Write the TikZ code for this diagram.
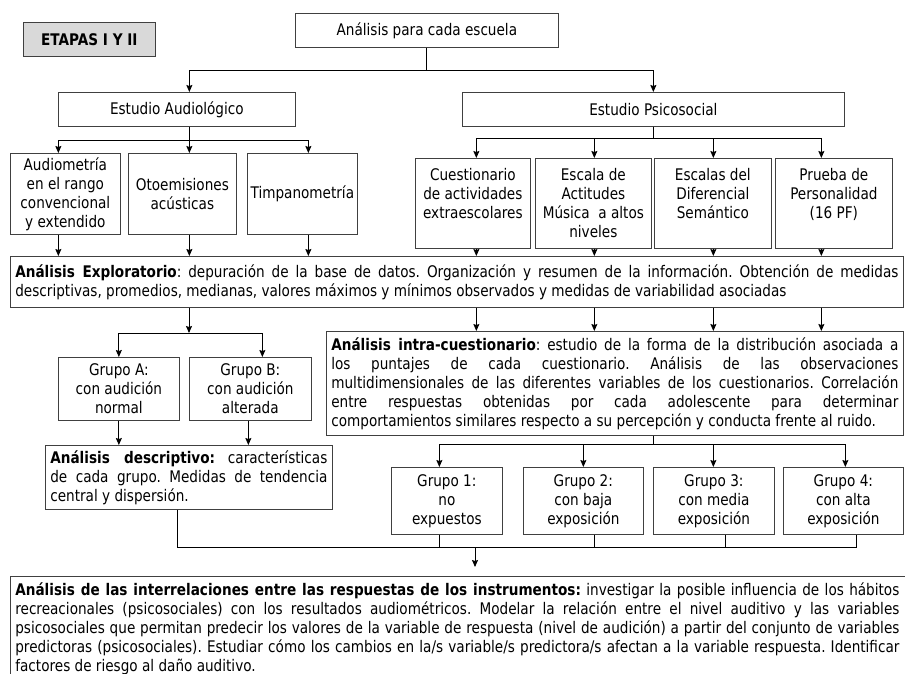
\documentclass[tikz,border=0pt]{standalone}
\usepackage{fontspec}
\setmainfont{DejaVu Sans}[FakeStretch=0.85]
\usepackage{tikz}
\usetikzlibrary{arrows.meta}
\frenchspacing
\definecolor{grisetapa}{RGB}{217,217,217}
\definecolor{borde}{RGB}{64,64,64}
\tikzset{%
    caja/.style={%
        draw=borde, line width=0.7pt, anchor=north west, align=center,
        inner sep=2pt, font=\fontsize{16}{19}\selectfont
    },
    parrafo/.style={caja, align=justify, inner xsep=5pt, inner ysep=4pt},
    tam/.style 2 args={minimum width=#1pt, minimum height=#2pt},
    linea/.style={line width=0.9pt},
    flecha/.style={->, line width=0.9pt}
}

\begin{document}
\begin{tikzpicture}[x=1pt, y=-1pt, >={Stealth[length=7pt,width=6pt,inset=1pt]}]
    \useasboundingbox (0,0) rectangle (905,673);
    \clip (0,0) rectangle (905,673);
    \fill[white] (0,0) rectangle (905,673);
    % cajas
    \node[caja, fill=grisetapa, tam={132}{34}, font=\fontsize{16}{19}\selectfont\bfseries] (etapas) at (23,22) {ETAPAS I Y II};
    \node[caja, tam={263}{34}] (escuela) at (295,13) {Análisis para cada escuela};
    \node[caja, tam={237}{34}] (audio) at (58,92) {Estudio Audiológico};
    \node[caja, tam={382}{34}] (psico) at (462,92) {Estudio Psicosocial};
    \node[caja, tam={110}{81}] (audiom) at (10,153) {Audiometría\\en el rango\\convencional\\y extendido};
    \node[caja, tam={108}{81}] (otoem) at (128,153) {Otoemisiones\\acústicas};
    \node[caja, tam={110}{81}] (timpa) at (247,153) {Timpanometría};
    \node[caja, tam={115}{90}] (cuest) at (415,158) {Cuestionario\\de actividades\\extraescolares\\\mbox{}};
    \node[caja, tam={116}{90}] (escala) at (535,158) {Escala de\\Actitudes\\Música\ \ a altos\\niveles};
    \node[caja, tam={117}{90}] (difer) at (654,158) {Escalas del\\Diferencial\\Semántico\\\mbox{}};
    \node[caja, tam={117}{90}] (prueba) at (775,158) {Prueba de\\Personalidad\\(16 PF)\\\mbox{}};
    \node[parrafo, text width=883pt, minimum height=51pt] (explor) at (10,256) {\textbf{Análisis Exploratorio}: depuración de la base de datos. Organización y resumen de la información. Obtención de medidas\linebreak descriptivas, promedios, medianas, valores máximos y mínimos observados y medidas de variabilidad asociadas};
    \node[caja, tam={121}{63}] (grA) at (58,357) {Grupo A:\\con audición\\normal};
    \node[caja, tam={122}{63}] (grB) at (189,357) {Grupo B:\\con audición\\alterada};
    \node[parrafo, text width=567pt, minimum height=104pt] (intra) at (326,331) {\textbf{Análisis intra-cuestionario}: estudio de la forma de la distribución asociada a\linebreak los puntajes de cada cuestionario. Análisis de las observaciones\linebreak multidimensionales de las diferentes variables de los cuestionarios. Correlación\linebreak entre respuestas obtenidas por cada adolescente para determinar\linebreak comportamientos similares respecto a su percepción y conducta frente al ruido.};
    \node[parrafo, text width=277pt, minimum height=64pt] (descr) at (45,445) {\textbf{Análisis descriptivo:} características\linebreak de cada grupo. Medidas de tendencia\linebreak central y dispersión.};
    \node[caja, tam={111}{67}] (gr1) at (391,467) {Grupo 1:\\no\\expuestos};
    \node[caja, tam={120}{67}] (gr2) at (523,467) {Grupo 2:\\con baja\\exposición};
    \node[caja, tam={121}{67}] (gr3) at (653,467) {Grupo 3:\\con media\\exposición};
    \node[caja, tam={120}{67}] (gr4) at (783,467) {Grupo 4:\\con alta\\exposición};
    \node[parrafo, draw=none, inner ysep=6pt, text width=884pt] (final) at (10,576) {\textbf{Análisis de las interrelaciones entre las respuestas de los instrumentos:} investigar la posible influencia de los hábitos\linebreak recreacionales (psicosociales) con los resultados audiométricos. Modelar la relación entre el nivel auditivo y las variables\linebreak psicosociales que permitan predecir los valores de la variable de respuesta (nivel de audición) a partir del conjunto de variables\linebreak predictoras (psicosociales). Estudiar cómo los cambios en la/s variable/s predictora/s afectan a la variable respuesta. Identificar\linebreak factores de riesgo al daño auditivo.};
    \draw[color=borde, line width=0.7pt] (final.north west) rectangle ++(960,130);
    % conectores
    \draw[linea] (escuela.south) -- ++(0,23) coordinate (r1);
    \draw[flecha] (r1) -| ([xshift=12.5pt]audio.north);
    \draw[flecha] (r1) -| (psico.north);
    \draw[linea] ([xshift=12.5pt]audio.south) -- ++(0,14) coordinate (r2);
    \draw[flecha] (r2) -| ([xshift=-7pt]audiom.north);
    \draw[flecha] (r2) -- ([xshift=7pt]otoem.north);
    \draw[flecha] (r2) -| ([xshift=6pt]timpa.north);
    \draw[linea] (psico.south) -- ++(0,12) coordinate (r3);
    \draw[flecha] (r3) -| ([xshift=3.5pt]cuest.north);
    \draw[flecha] (r3) -| ([xshift=1pt]escala.north);
    \draw[flecha] (r3) -| ([xshift=0.5pt]difer.north);
    \draw[flecha] (r3) -| ([xshift=-12.5pt]prueba.north);
    \draw[flecha] ([xshift=-7pt]audiom.south) -- ([xshift=-7pt]audiom.south |- explor.north);
    \draw[flecha] ([xshift=7pt]otoem.south) -- ([xshift=7pt]otoem.south |- explor.north);
    \draw[flecha] ([xshift=6pt]timpa.south) -- ([xshift=6pt]timpa.south |- explor.north);
    \draw[flecha] ([xshift=3.5pt]cuest.south) -- ([xshift=3.5pt]cuest.south |- explor.north);
    \draw[flecha] ([xshift=1pt]escala.south) -- ([xshift=1pt]escala.south |- explor.north);
    \draw[flecha] ([xshift=0.5pt]difer.south) -- ([xshift=0.5pt]difer.south |- explor.north);
    \draw[flecha] ([xshift=-12.5pt]prueba.south) -- ([xshift=-12.5pt]prueba.south |- explor.north);
    \coordinate (s1) at (189,333);
    \draw[flecha] (explor.south -| s1) -- (s1);
    \draw[flecha] (s1) -| (grA.north);
    \draw[flecha] (s1) -| ([xshift=12pt]grB.north);
    \draw[flecha] (grA.south) -- (grA.south |- descr.north);
    \draw[flecha] ([xshift=-2pt]grB.south) -- ([xshift=-2pt]grB.south |- descr.north);
    \draw[flecha] ([xshift=3.5pt]cuest.south |- explor.south) -- ([xshift=3.5pt]cuest.south |- intra.north);
    \draw[flecha] ([xshift=1pt]escala.south |- explor.south) -- ([xshift=1pt]escala.south |- intra.north);
    \draw[flecha] ([xshift=0.5pt]difer.south |- explor.south) -- ([xshift=0.5pt]difer.south |- intra.north);
    \draw[flecha] ([xshift=-12.5pt]prueba.south |- explor.south) -- ([xshift=-12.5pt]prueba.south |- intra.north);
    \draw[linea] ([xshift=38.5pt]intra.south) -- ++(0,9) coordinate (r4);
    \draw[flecha] (r4) -| ([xshift=-7.5pt]gr1.north);
    \draw[flecha] (r4) -| (gr2.north);
    \draw[flecha] (r4) -| ([xshift=-0.5pt]gr3.north);
    \draw[flecha] (r4) -| ([xshift=2pt]gr4.north);
    \coordinate (s3) at (475,547);
    \draw[linea] ([xshift=-11.5pt]descr.south) |- ([xshift=13pt]gr4.south |- s3) -- ([xshift=13pt]gr4.south);
    \draw[linea] ([xshift=-7.5pt]gr1.south) -- ([xshift=-7.5pt]gr1.south |- s3);
    \draw[linea] ([xshift=11pt]gr2.south) -- ([xshift=11pt]gr2.south |- s3);
    \draw[linea] ([xshift=11.5pt]gr3.south) -- ([xshift=11.5pt]gr3.south |- s3);
    \draw[flecha, shorten >=9pt] (s3) -- (s3 |- final.north);
\end{tikzpicture}
\end{document}
